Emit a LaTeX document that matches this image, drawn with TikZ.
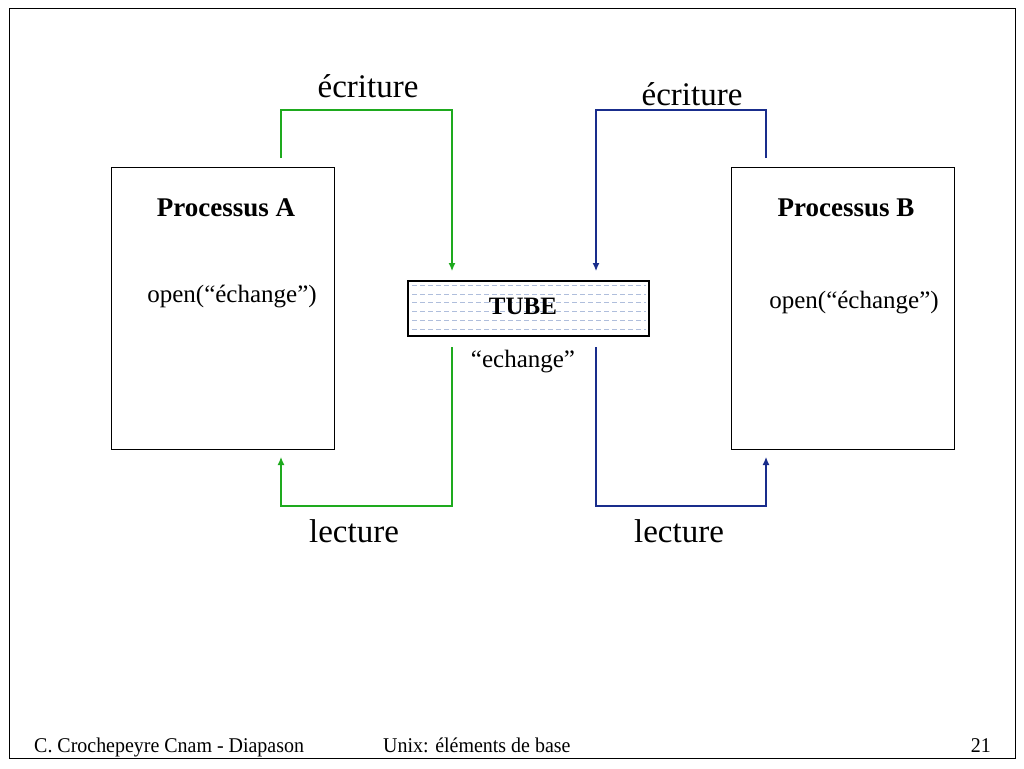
\documentclass[tikz,border=0pt]{standalone}
\usepackage{graphicx}
\usepackage{fontspec}
\setmainfont{Liberation Serif}
\usetikzlibrary{arrows.meta}
\definecolor{grn}{RGB}{30,170,30}
\definecolor{blu}{RGB}{25,45,140}
\definecolor{dashc}{RGB}{175,190,220}
\begin{document}
\begin{tikzpicture}[x=1pt,y=-1pt,
  procbox/.style={draw=black, line width=1pt, minimum width=223pt, minimum height=282pt, inner sep=0pt},
  tubebox/.style={draw=black, line width=1.2pt, minimum width=241pt, minimum height=55pt, inner sep=0pt},
  flow/.style={line width=1.2pt, -{Latex[length=8pt,width=7pt]}},
  big/.style={font=\fontsize{33}{38}\selectfont, anchor=base, inner sep=0pt},
  title/.style={font=\fontsize{27}{30}\selectfont\bfseries, anchor=base, inner sep=0pt},
  mid/.style={font=\fontsize{25}{28}\selectfont, anchor=base, inner sep=0pt},
  foot/.style={font=\fontsize{21}{23}\selectfont, anchor=base west, inner sep=0pt},
  dashline/.style={draw=dashc, line width=0.8pt, dash pattern=on 5pt off 3pt}
]
\useasboundingbox (0,0) rectangle (1024,768);
\draw[line width=1pt] (9,9) rectangle (1015,758);

% process boxes
\node[procbox] (A) at (222.5,308) {};
\node[procbox] (B) at (842.5,308) {};

% tube
\node[tubebox] (T) at (528.5,308.5) {};
\foreach \yy in {285.5,294,302.5,311.5,320.5,329.5}
  \draw[dashline] (412,\yy) -- (646,\yy);
\draw[line width=1.2pt, draw=black] (T.south west) rectangle (T.north east);

% texts
\node[title] (ta) at (226,216) {Processus A};
\node[title] (tb) at (846,216) {Processus B};
\node[mid] (oa) at (232,302) {open(“échange”)};
\node[mid] (ob) at (854,308) {open(“échange”)};
\node[mid, font=\fontsize{25}{28}\selectfont\bfseries] (tt) at (523,314) {TUBE};
\node[mid] (te) at (523,367) {“echange”};
\node[big] (ew1) at (368,97) {écriture};
\node[big] (ew2) at (692,105) {écriture};
\node[big] (lc1) at (354,542) {lecture};
\node[big] (lc2) at (679,542) {lecture};

% connector end points
\coordinate (aw) at (281,158);
\coordinate (tw1) at (452,271);
\coordinate (bw) at (766,158);
\coordinate (tw2) at (596,271);
\coordinate (tl1) at (452,347);
\coordinate (al) at (281,457);
\coordinate (tl2) at (596,347);
\coordinate (bl) at (766,457);

\draw[flow, grn] (aw) -- ++(0,-48) -| (tw1);
\draw[flow, blu] (bw) -- ++(0,-48) -| (tw2);
\draw[flow, grn] (tl1) -- ++(0,159) -| (al);
\draw[flow, blu] (tl2) -- ++(0,159) -| (bl);

% footer
\node[foot] (f1) at (34,752) {\scalebox{0.95}[1]{C. Crochepeyre Cnam - Diapason}};
\node[foot] (f2) at (383,752) {\scalebox{0.95}[1]{Unix: éléments de base}};
\node[foot, anchor=base east] (f3) at (991,752) {\scalebox{0.95}[1]{21}};
\end{tikzpicture}
\end{document}
